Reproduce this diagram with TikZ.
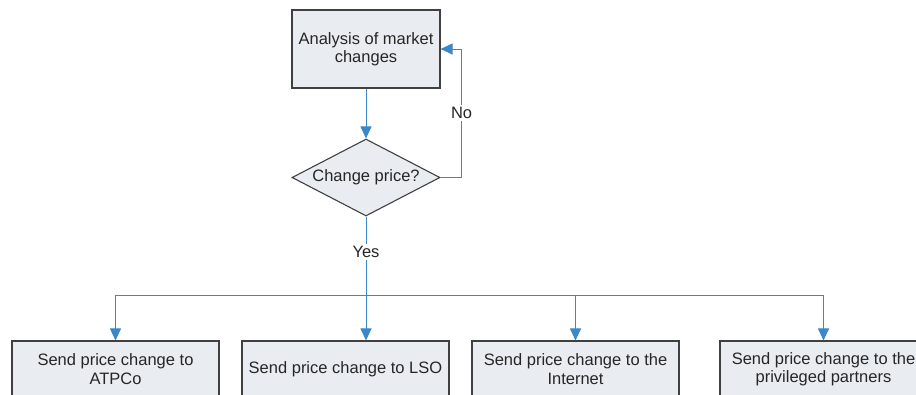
\documentclass[tikz,border=0pt]{standalone}
\usepackage{fontspec}
\setmainfont{Liberation Sans}
\usetikzlibrary{shapes.geometric,arrows.meta}

\definecolor{boxfill}{HTML}{E9EDF1}
\definecolor{boxline}{HTML}{404040}
\definecolor{flowblue}{HTML}{3A87C9}

\begin{document}
\begin{tikzpicture}[x=1pt, y=-1pt,
    every node/.style={font=\fontsize{16.5}{18.5}\selectfont, text=black!85},
    stepbox/.style={draw=boxline, line width=1.1pt, fill=boxfill, align=center, inner sep=0pt},
    decision/.style={diamond, draw=boxline, line width=1.1pt, fill=boxfill, aspect=1.92,
        minimum width=148pt, minimum height=77pt, inner sep=0pt},
    flow/.style={draw=flowblue, line width=0.9pt, -{Triangle[length=12pt,width=11pt]}},
    lbl/.style={fill=white, inner sep=2pt}]
        \useasboundingbox (0,0) rectangle (916,394);

        % Nodes
        \node[stepbox, minimum width=148pt, minimum height=78pt] (analysis) at (366,49) {Analysis of market\\changes};
        \node[decision] (change) at (366,177.5) {Change price?};
        \coordinate (split) at (366,295);
        \node[stepbox, minimum width=207pt, minimum height=56pt] (atpco) at (115.5,369) {Send price change to\\ATPCo};
        \node[stepbox, minimum width=207pt, minimum height=56pt] (lso) at (345.5,369) {Send price change to LSO};
        \node[stepbox, minimum width=207pt, minimum height=56pt] (internet) at (575.5,369) {Send price change to the\\Internet};
        \node[stepbox, minimum width=207pt, minimum height=56pt] (partners) at (823.5,369) {Send price change to the\\privileged partners};

        % Edges
        \draw[flow] (analysis) -- (change);
        \draw[flow] (change.east) -- ++(21,0) |- node[lbl, pos=0.25] {No} (analysis.east);
        \draw[draw=flowblue, line width=0.9pt] (change.south) -- node[lbl, pos=0.45] {Yes} (split);
        \draw[flow] (split) -| (atpco.north);
        \draw[flow] (split) -- (split |- lso.north);
        \draw[flow] (split) -| (internet.north);
        \draw[flow] (split) -| (partners.north);
    \end{tikzpicture}
\end{document}
